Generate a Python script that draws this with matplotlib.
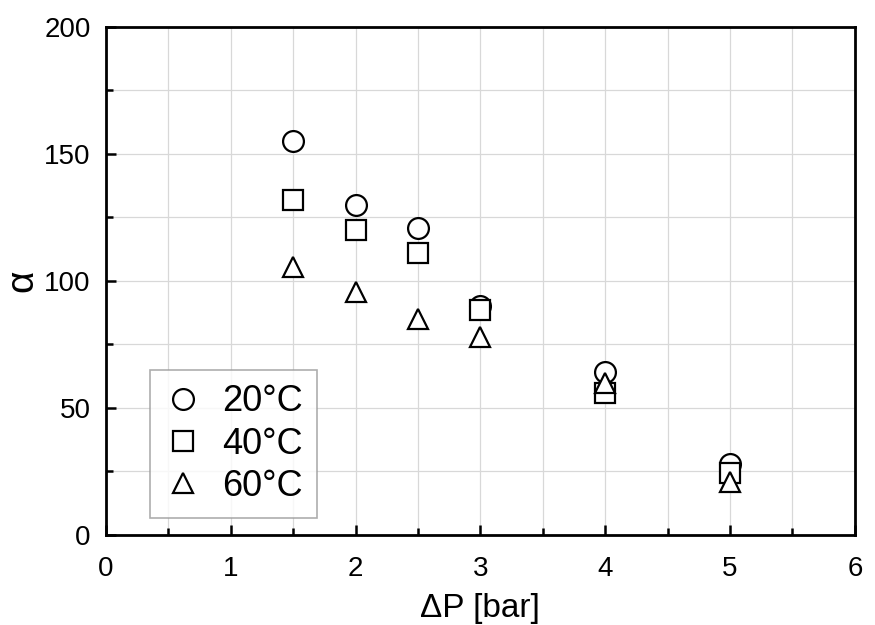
import numpy as np
import matplotlib.pyplot as plt
from matplotlib.ticker import MultipleLocator

plt.rcParams['font.family'] = ['Liberation Sans', 'DejaVu Sans']

# data
dp = [1.5, 2.0, 2.5, 3.0, 4.0, 5.0]
alpha_20 = [155, 130, 121, 90, 64, 28]
alpha_40 = [132, 120, 111, 88.5, 56, 24.5]
alpha_60 = [105.5, 95.5, 85, 78, 60, 21]
labels = ['20°C', '40°C', '60°C']

fig = plt.figure(figsize=(8.75, 6.25), dpi=100)
ax = fig.add_axes([0.121, 0.144, 0.856, 0.813])

style = dict(linestyle='', markersize=15, markerfacecolor='white',
             markeredgecolor='black', markeredgewidth=1.6)
ax.plot(dp, alpha_20, marker='o', label=labels[0], zorder=3, **style)
ax.plot(dp, alpha_40, marker='s', label=labels[1], zorder=4, **style)
ax.plot(dp, alpha_60, marker='^', label=labels[2], zorder=5, **style)

ax.set_xlim(0, 6)
ax.set_ylim(0, 200)
ax.xaxis.set_major_locator(MultipleLocator(1))
ax.xaxis.set_minor_locator(MultipleLocator(0.5))
ax.yaxis.set_major_locator(MultipleLocator(50))
ax.yaxis.set_minor_locator(MultipleLocator(25))

ax.grid(which='both', color='#d8d8d8', linewidth=0.9, zorder=0)
ax.set_axisbelow(True)
ax.tick_params(which='both', direction='in', top=False, right=False,
               labelsize=20, width=1.8)
ax.tick_params(axis='x', which='major', length=7, pad=15)
ax.tick_params(axis='y', which='major', length=7, pad=11)
ax.tick_params(which='minor', length=5)
for s in ax.spines.values():
    s.set_linewidth(2)

ax.set_xlabel('ΔP [bar]', fontsize=24, labelpad=8)
ax.set_ylabel('α', fontsize=28, labelpad=3)

leg = ax.legend(loc='upper left', bbox_to_anchor=(0.059, 0.325), fontsize=26,
                frameon=True, fancybox=False, edgecolor='#999999',
                handletextpad=0.6, borderpad=0.4, labelspacing=0.2,
                handlelength=1.0, borderaxespad=0)
leg.get_frame().set_linewidth(1.2)

fig.savefig('out.png', dpi=100)
